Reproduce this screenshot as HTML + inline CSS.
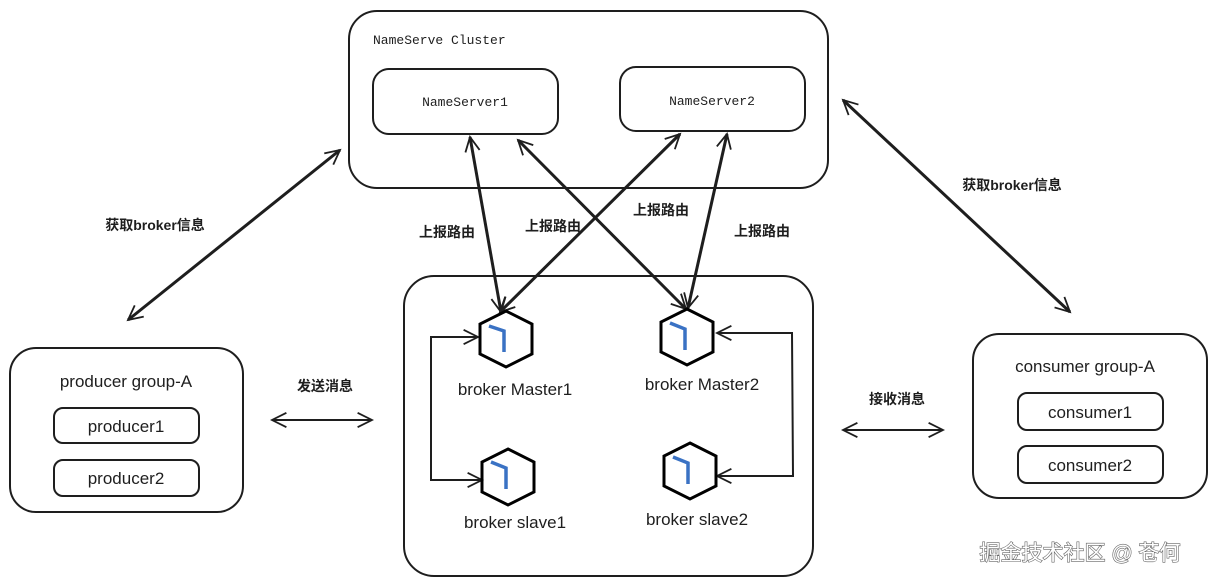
<!DOCTYPE html>
<html><head><meta charset="utf-8"><style>
body{margin:0;background:#fff;}
svg{display:block}
text{font-family:"Liberation Sans","Noto Sans CJK SC",sans-serif;fill:#1e1e1e}
text.m{font-family:"Liberation Mono","Noto Sans CJK SC",monospace}
</style></head><body>
<svg width="1216" height="586" viewBox="0 0 1216 586" xmlns="http://www.w3.org/2000/svg">
<defs>
<marker id="a" viewBox="0 0 20 20" refX="18" refY="10" markerWidth="18" markerHeight="18" orient="auto-start-reverse" markerUnits="userSpaceOnUse">
<path d="M2,2 L18,10 L2,18" fill="none" stroke="#1e1e1e" stroke-width="2"/></marker>
</defs>
<g fill="none" stroke="#1e1e1e" stroke-width="2">
<rect x="349" y="11" width="479" height="177" rx="28"/>
<rect x="373" y="69" width="185" height="65" rx="16"/>
<rect x="620" y="67" width="185" height="64" rx="16"/>
<rect x="404" y="276" width="409" height="300" rx="30"/>
<rect x="10" y="348" width="233" height="164" rx="26"/>
<rect x="54" y="408" width="145" height="35" rx="9"/>
<rect x="54" y="460" width="145" height="36" rx="9"/>
<rect x="973" y="334" width="234" height="164" rx="26"/>
<rect x="1018" y="393" width="145" height="37" rx="9"/>
<rect x="1018" y="446" width="145" height="37" rx="9"/>
</g>
<g fill="none" stroke="#1e1e1e" stroke-width="3" marker-start="url(#a)" marker-end="url(#a)">
<line x1="470" y1="137" x2="501" y2="312"/>
<line x1="518" y1="140" x2="686" y2="309"/>
<line x1="680" y1="134" x2="500" y2="312"/>
<line x1="727" y1="134" x2="688" y2="308"/>
<line x1="340" y1="150" x2="128" y2="320"/>
<line x1="843" y1="100" x2="1070" y2="312"/>
<line x1="272" y1="420" x2="372" y2="420" stroke-width="2"/>
<line x1="843" y1="430" x2="943" y2="430" stroke-width="2"/>
<polyline points="478,337 431,337 431,480 482,480" stroke-width="2"/>
<polyline points="717,333 792,333 793,476 717,476" stroke-width="2"/>
</g>
<g fill="none" stroke="#000" stroke-width="3">
<path d="M506,311 L532,324 L532,354 L506,367 L480,354 L480,324 Z"/>
<path d="M687,309 L713,322 L713,352 L687,365 L661,352 L661,322 Z"/>
<path d="M508,449 L534,462 L534,492 L508,505 L482,492 L482,462 Z"/>
<path d="M690,443 L716,456 L716,486 L690,499 L664,486 L664,456 Z"/>
</g>
<g fill="none" stroke="#3a72c4" stroke-width="3.5">
<path d="M489,326 L504,331 L504,352"/>
<path d="M670,323 L685,329 L685,350"/>
<path d="M491,462 L506,468 L506,489"/>
<path d="M673,457 L688,463 L688,484"/>
</g>
<g font-size="13">
<text class="m" x="373" y="44">NameServe Cluster</text>
<text class="m" x="465" y="106" text-anchor="middle">NameServer1</text>
<text class="m" x="712" y="105" text-anchor="middle">NameServer2</text>
</g>
<g font-size="17" text-anchor="middle">
<text x="515" y="395">broker Master1</text>
<text x="702" y="390">broker Master2</text>
<text x="515" y="528">broker slave1</text>
<text x="697" y="525">broker slave2</text>
<text x="126" y="387">producer group-A</text>
<text x="126" y="432">producer1</text>
<text x="126" y="484">producer2</text>
<text x="1085" y="372">consumer group-A</text>
<text x="1090" y="418">consumer1</text>
<text x="1090" y="471">consumer2</text>
</g>
<g font-size="14" text-anchor="middle" font-weight="bold">
<text x="155" y="230">获取broker信息</text>
<text x="1012" y="190">获取broker信息</text>
<text x="447" y="237">上报路由</text>
<text x="553" y="231">上报路由</text>
<text x="661" y="215">上报路由</text>
<text x="762" y="236">上报路由</text>
<text x="325" y="391">发送消息</text>
<text x="897" y="404">接收消息</text>
</g>
<text x="1080" y="560" font-size="21" text-anchor="middle" style="fill:#fff;stroke:#666;stroke-width:1.2;paint-order:stroke">掘金技术社区 @ 苍何</text>
</svg>
</body></html>
